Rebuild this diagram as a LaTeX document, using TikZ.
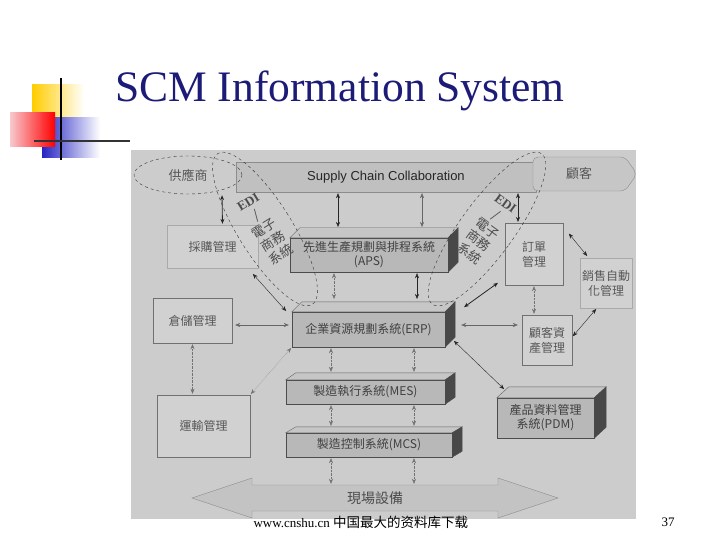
\documentclass[tikz,border=0pt]{standalone}
\usepackage{fontspec}
\setmainfont{Liberation Serif}
\setsansfont{Liberation Sans}
\newfontfamily\cjk{Noto Sans CJK TC}
\newfontfamily\cjksc{Noto Sans CJK SC}
\usetikzlibrary{positioning,arrows.meta,shapes.geometric,shapes.symbols,calc}

\definecolor{titleblue}{RGB}{28,28,120}
\definecolor{logoyellow}{RGB}{255,204,0}
\definecolor{logoblue}{RGB}{36,36,196}
\definecolor{logopink}{RGB}{248,200,205}
\definecolor{panel}{RGB}{204,204,204}
\definecolor{boxfill}{RGB}{209,209,209}
\definecolor{boxline}{RGB}{112,112,112}
\definecolor{ink}{RGB}{88,88,88}
\definecolor{front}{RGB}{184,184,184}
\definecolor{topside}{RGB}{198,198,198}
\definecolor{darkside}{RGB}{72,72,72}
\definecolor{banner}{RGB}{192,192,192}

\begin{document}
\begin{tikzpicture}[x=1pt,y=-1pt,
    box/.style={draw=boxline,fill=boxfill,text=ink,font=\cjk\fontsize{12}{15}\selectfont,align=center,inner sep=0pt},
    prism/.style={draw=black!70,fill=front,text=black!75,font=\cjk\fontsize{12}{14}\selectfont,align=center,inner sep=0pt},
    edi/.style={draw=black!80,dashed,ellipse,inner sep=0pt,minimum width=54pt,text=black!70,font=\cjk\fontsize{13}{15.5}\selectfont,align=center},
    link/.style={<->,>={Stealth[length=5pt,width=4pt]},black!85,shorten <=1pt,shorten >=1pt},
    dotlink/.style={link,densely dotted,black!55},
]
\useasboundingbox (0,0) rectangle (720,540);

\fill[left color=logoyellow,middle color=logoyellow,right color=white] (32,85) rectangle (84,120);
\fill[left color=logoblue,middle color=logoblue!85,right color=white] (42,118) rectangle (100,158);
\fill[left color=logopink,right color=red] (10,113) rectangle (55,147);
\draw[line width=2.4pt] (61,78) -- (61,160);
\draw[line width=2.4pt,black!80] (34,141) -- (130,141);
\node[font=\fontsize{43.5}{50}\selectfont,text=titleblue,anchor=base] (title) at (340,102) {SCM Information System};

\fill[panel] (131,150) rectangle (636,519);

\node[fill=banner,draw=black!45,minimum width=300pt,minimum height=30pt,inner sep=0pt,font=\sffamily\fontsize{13}{15}\selectfont,text=black!85] (scc) at (386,177) {Supply Chain Collaboration};
\node[signal,signal to=east,signal pointer angle=110,fill=banner!90!white,draw=black!45,minimum width=104pt,minimum height=34pt,inner sep=0pt,rounded corners=5pt,font=\cjk\fontsize{13}{15}\selectfont,text=ink] (customer) at (579,174) {顧客};
\node[draw=black!80,dashed,ellipse,minimum width=108pt,minimum height=38pt,inner sep=0pt,font=\cjk\fontsize{13}{15}\selectfont,text=ink] (supplier) at (188,175) {供應商};

\node[box,draw=boxline!60,minimum width=91pt,minimum height=43pt] (purchase) at (212.5,246.5) {採購管理};
\node[box,minimum width=79pt,minimum height=45pt] (warehouse) at (192.5,320.5) {倉儲管理};
\node[box,minimum width=93pt,minimum height=62pt] (transport) at (203.5,426) {運輸管理};
\node[box,minimum width=58pt,minimum height=62pt] (order) at (534,254) {訂單\\管理};
\node[box,draw=boxline!60,minimum width=52pt,minimum height=50pt] (salesauto) at (606,283) {銷售自動\\化管理};
\node[box,minimum width=50pt,minimum height=50pt] (custasset) at (547,340) {顧客資\\產管理};

\node[prism,minimum width=158pt,minimum height=34pt] (aps) at (369,255) {先進生產規劃與排程系統\\(APS)};
\node[prism,minimum width=153pt,minimum height=35pt] (erp) at (368.5,329.5) {企業資源規劃系統(ERP)};
\node[prism,minimum width=159pt,minimum height=24pt] (mes) at (365.5,392) {製造執行系統(MES)};
\node[prism,minimum width=166pt,minimum height=24pt] (mcs) at (369,445) {製造控制系統(MCS)};
\node[prism,minimum width=97pt,minimum height=40pt] (pdm) at (545.5,418) {產品資料管理\\系統(PDM)};

\foreach \n/\dx/\dy in {aps/10/10,erp/10/10,mes/10/7,mcs/10/6,pdm/12/11}{
  \draw[fill=topside,draw=black!60] (\n.north west) -- ++(\dx,-\dy) -- ($(\n.north east)+(\dx,-\dy)$) -- (\n.north east) -- cycle;
  \draw[fill=darkside,draw=black!70] (\n.north east) -- ++(\dx,-\dy) -- ($(\n.south east)+(\dx,-\dy)$) -- (\n.south east) -- cycle;
  \coordinate (\n-top) at ($(\n.north)+(\dx,-\dy)$);
}

\draw[fill=banner!95!white,draw=black!45] (192,498) -- (252,478) -- (252,485) -- (498,485) -- (498,478) -- (558,498) -- (498,518) -- (498,511) -- (252,511) -- (252,518) -- cycle;
\node[minimum width=246pt,minimum height=26pt,inner sep=0pt,font=\cjk\fontsize{14}{16}\selectfont,text=black!70] (field) at (375,498) {現場設備};

\coordinate (sccA) at (338,228);
\coordinate (sccB) at (422,228);
\coordinate (sccC) at (518,223);
\coordinate (colA) at (334,300);
\coordinate (colB) at (417,300);
\coordinate (colC) at (331,0);
\coordinate (colD) at (414,0);

\draw[link,thick] ([xshift=34pt]supplier.south) -- ([xshift=10pt]purchase.north);
\draw[link] (scc.south -| sccA) -- (sccA);
\draw[link,black!60] (scc.south -| sccB) -- (sccB);
\draw[link] (scc.south -| sccC) -- (sccC);
\draw[link] ([shift={(-6pt,-5pt)}]purchase.south east) -- ([xshift=-5pt]erp.north west);
\draw[dotlink] (aps.south -| colA) -- (colA);
\draw[link] (aps.south -| colB) -- (colB);
\draw[link,black!60] ([shift={(2pt,-4.5pt)}]warehouse.east) -- ([shift={(-2pt,4.5pt)}]erp.west);
\draw[dotlink] (warehouse.south) -- (warehouse.south |- transport.north);
\draw[dotlink] (transport.north east) -- (erp.south west);
\draw[link,thick] ([shift={(18pt,4pt)}]erp.north east) -- ([shift={(-6pt,3pt)}]order.south west);
\draw[link,black!60] ([shift={(15pt,4.5pt)}]erp.east) -- ([shift={(-3pt,15pt)}]custasset.west);
\draw[dotlink] (order.south) -- (order.south |- custasset.north);
\draw[link] ([shift={(5pt,-10pt)}]order.north east) -- ([shift={(8pt,1pt)}]salesauto.north west);
\draw[link] ([xshift=17pt]salesauto.south west) -- ([yshift=3pt]custasset.east);
\draw[link] ([shift={(8pt,7pt)}]erp.south east) -- ([shift={(8pt,8pt)}]pdm.north west);
\draw[dotlink] (erp.south -| colC) -- (mes-top -| colC);
\draw[dotlink] (erp.south -| colD) -- (mes-top -| colD);
\draw[dotlink] (mes.south -| colC) -- (mcs-top -| colC);
\draw[dotlink] (mes.south -| colD) -- (mcs-top -| colD);
\draw[dotlink] (mcs.south -| colC) -- (field.north -| colC);
\draw[dotlink] (mcs.south -| colD) -- (field.north -| colD);

\node[edi,rotate=32,minimum height=178pt] (ediL) at (265,229) {{\rmfamily\bfseries EDI}\\/\\電子\\商務\\系統};
\node[edi,rotate=-36,minimum height=186pt] (ediR) at (487,229) {{\rmfamily\bfseries EDI}\\/\\電子\\商務\\系統};

\node[anchor=west,font=\fontsize{13}{15}\selectfont] (source) at (250,522) {www.cnshu.cn {\cjksc\fontsize{13.5}{15}\selectfont 中国最大的资料库下载}};
\node[font=\fontsize{13}{15}\selectfont] (pageno) at (668,522) {37};
\end{tikzpicture}
\end{document}
